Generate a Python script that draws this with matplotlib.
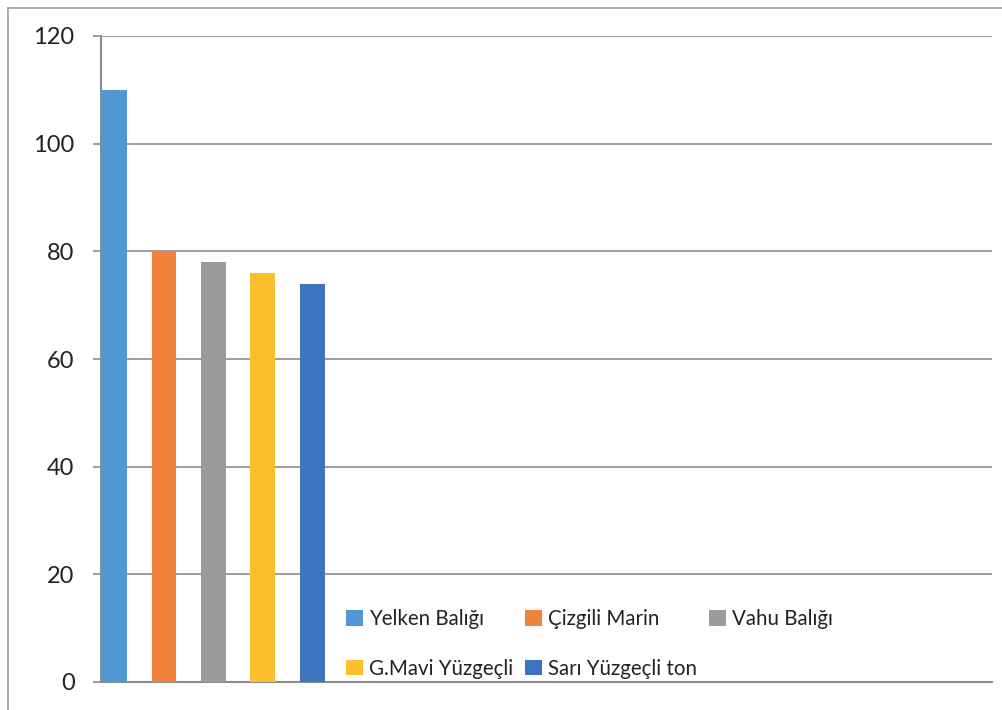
import matplotlib.pyplot as plt
from matplotlib.lines import Line2D

# data
labels = ["Yelken Balığı", "Çizgili Marin", "Vahu Balığı", "G.Mavi Yüzgeçli", "Sarı Yüzgeçli ton"]
values = [110, 80, 78, 76, 74]
colors = ["#4F98D3", "#F0823B", "#9A9C9C", "#FDBF2D", "#3D74BE"]
yticks = [0, 20, 40, 60, 80, 100, 120]

plt.rcParams['font.family'] = ['Lato', 'DejaVu Sans']

W, H = 1002, 710
fig = plt.figure(figsize=(W / 100, H / 100), dpi=100)
ax = fig.add_axes([101 / W, 28 / H, (992 - 101) / W, (682 - 36) / H])

bars = []
for i, (lab, v, c) in enumerate(zip(labels, values, colors)):
    bars.append(ax.bar(i, v, width=0.505, color=c, label=lab, zorder=3))

ax.set_xlim(-0.273, 17.73)
ax.set_ylim(0, 120)
ax.set_yticks(yticks)
ax.set_xticks([])
ax.grid(axis='y', color='#8c8c8c', linewidth=1.2, zorder=0)
ax.tick_params(axis='y', length=6, width=1.2, color='#8c8c8c', pad=13,
               labelsize=17, labelcolor='#222222')
for s in ['top', 'right']:
    ax.spines[s].set_visible(False)
for s in ['left', 'bottom']:
    ax.spines[s].set_color('#8c8c8c')
    ax.spines[s].set_linewidth(1.5)

# legend fills column by column, so reorder to read row by row
order = [0, 3, 1, 4, 2]
leg = ax.legend([bars[k] for k in order], [labels[k] for k in order],
                ncol=3, loc='lower left', bbox_to_anchor=(0.259, -0.017),
                frameon=False, fontsize=14.8, handlelength=0.8, handleheight=0.8,
                handletextpad=0.3, columnspacing=0.6, labelspacing=1.45,
                borderaxespad=0.3)
for t in leg.get_texts():
    t.set_color('#222222')

# outer chart border (only left and top visible in the crop)
fig.add_artist(Line2D([8 / W, 8 / W], [0, 1 - 8 / H], transform=fig.transFigure,
                      color='#a0a0a0', linewidth=1.2))
fig.add_artist(Line2D([8 / W, 1], [1 - 8 / H, 1 - 8 / H], transform=fig.transFigure,
                      color='#a0a0a0', linewidth=1.2))

fig.savefig("out.png", dpi=100)
